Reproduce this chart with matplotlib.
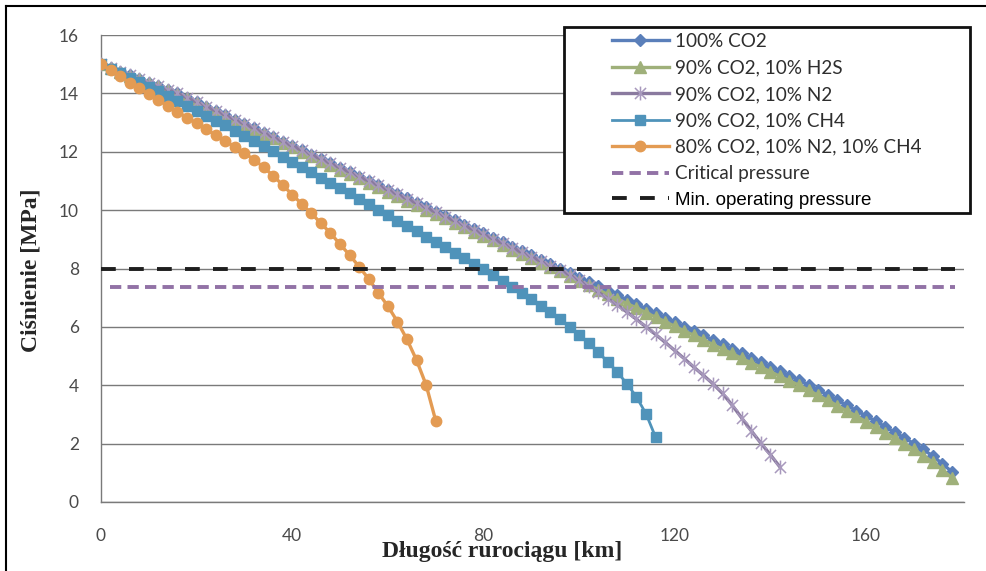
import matplotlib
matplotlib.use("Agg")
import matplotlib.pyplot as plt
from matplotlib.path import Path
from matplotlib.lines import Line2D
from matplotlib.patches import Rectangle

# ---------------- data ----------------
km = list(range(0, 180, 2))  # measurement points every 2 km

co2_100 = [15.00, 14.87, 14.74, 14.62, 14.49, 14.37, 14.25, 14.12, 14.00, 13.85,
           13.70, 13.55, 13.40, 13.25, 13.10, 12.95, 12.80, 12.65, 12.50, 12.35,
           12.20, 12.05, 11.90, 11.75, 11.60, 11.45, 11.30, 11.15, 11.00, 10.85,
           10.70, 10.55, 10.40, 10.25, 10.10, 9.95, 9.80, 9.65, 9.50, 9.35,
           9.20, 9.05, 8.90, 8.75, 8.60, 8.45, 8.30, 8.15, 8.00, 7.85,
           7.69, 7.54, 7.39, 7.23, 7.08, 6.93, 6.78, 6.62, 6.47, 6.32,
           6.16, 6.01, 5.86, 5.71, 5.55, 5.40, 5.25, 5.09, 4.94, 4.79,
           4.64, 4.48, 4.33, 4.18, 4.01, 3.84, 3.67, 3.49, 3.31, 3.13,
           2.95, 2.77, 2.58, 2.39, 2.20, 2.00, 1.80, 1.57, 1.31, 1.03]

co2_h2s = [15.00, 14.87, 14.74, 14.61, 14.48, 14.36, 14.24, 14.11, 13.99, 13.83,
           13.68, 13.53, 13.37, 13.22, 13.07, 12.92, 12.76, 12.61, 12.46, 12.31,
           12.15, 12.00, 11.85, 11.70, 11.54, 11.39, 11.24, 11.09, 10.93, 10.78,
           10.63, 10.48, 10.32, 10.17, 10.02, 9.87, 9.72, 9.56, 9.41, 9.26,
           9.11, 8.96, 8.81, 8.65, 8.50, 8.35, 8.20, 8.05, 7.90, 7.75,
           7.58, 7.43, 7.27, 7.11, 6.96, 6.80, 6.65, 6.49, 6.33, 6.18,
           6.02, 5.86, 5.71, 5.56, 5.39, 5.24, 5.09, 4.92, 4.77, 4.62,
           4.47, 4.30, 4.15, 4.00, 3.83, 3.65, 3.48, 3.30, 3.12, 2.94,
           2.75, 2.57, 2.38, 2.19, 2.00, 1.80, 1.59, 1.36, 1.10, 0.82]

co2_n2 = [15.00, 14.87, 14.74, 14.62, 14.49, 14.37, 14.25, 14.12, 14.00, 13.85,
          13.70, 13.55, 13.40, 13.25, 13.10, 12.95, 12.80, 12.65, 12.50, 12.35,
          12.20, 12.05, 11.90, 11.75, 11.60, 11.45, 11.30, 11.15, 11.00, 10.85,
          10.69, 10.54, 10.39, 10.24, 10.08, 9.93, 9.78, 9.63, 9.47, 9.32,
          9.17, 9.01, 8.86, 8.71, 8.55, 8.40, 8.25, 8.09, 7.95, 7.78,
          7.59, 7.40, 7.19, 6.97, 6.75, 6.51, 6.26, 6.00, 5.74, 5.47,
          5.19, 4.91, 4.62, 4.34, 4.05, 3.72, 3.32, 2.88, 2.44, 2.02,
          1.62, 1.20]

co2_ch4 = [15.00, 14.85, 14.70, 14.54, 14.39, 14.23, 14.07, 13.91, 13.74, 13.58,
           13.41, 13.24, 13.07, 12.90, 12.72, 12.55, 12.37, 12.19, 12.01, 11.83,
           11.65, 11.47, 11.29, 11.11, 10.93, 10.75, 10.57, 10.38, 10.20, 10.01,
           9.83, 9.64, 9.46, 9.27, 9.09, 8.90, 8.72, 8.54, 8.36, 8.17,
           7.98, 7.78, 7.57, 7.36, 7.15, 6.94, 6.72, 6.50, 6.28, 6.00,
           5.72, 5.44, 5.13, 4.80, 4.45, 4.05, 3.60, 3.02, 2.22]

co2_n2_ch4 = [15.00, 14.79, 14.58, 14.37, 14.17, 13.97, 13.77, 13.57, 13.37, 13.17,
              12.97, 12.77, 12.57, 12.37, 12.16, 11.95, 11.73, 11.47, 11.18, 10.86,
              10.53, 10.21, 9.89, 9.55, 9.21, 8.83, 8.46, 8.06, 7.64, 7.17,
              6.71, 6.18, 5.57, 4.86, 4.01, 2.79]

critical_pressure = 7.38
min_operating_pressure = 8.0

labels = ["100% CO2", "90% CO2, 10% H2S", "90% CO2, 10% N2",
          "90% CO2, 10% CH4", "80% CO2, 10% N2, 10% CH4",
          "Critical pressure", "Min. operating pressure"]
x_ticks = [0, 40, 80, 120, 160]
y_ticks = [0, 2, 4, 6, 8, 10, 12, 14, 16]

# ---------------- figure ----------------
W, H = 986, 571
fig = plt.figure(figsize=(W / 100, H / 100), dpi=100)
fig.patch.set_facecolor("white")
ax = fig.add_axes([101 / W, 1 - 502 / H, 863 / W, 467 / H])

ax.set_xlim(0, 180.5)
ax.set_ylim(0, 16)
ax.set_xticks(x_ticks)
ax.set_yticks(y_ticks)
ax.yaxis.grid(True, color="#7a7a7a", lw=1.0)
ax.set_axisbelow(True)
for s in ["top", "right"]:
    ax.spines[s].set_visible(False)
for s in ["left", "bottom"]:
    ax.spines[s].set_color("#7a7a7a")
    ax.spines[s].set_linewidth(1.0)

tick_font = "Lato"
ax.tick_params(axis="both", length=0, labelsize=12.5, labelcolor="#4a4a4a")
ax.tick_params(axis="x", pad=19)
ax.tick_params(axis="y", pad=16)
for t in ax.get_xticklabels() + ax.get_yticklabels():
    t.set_fontfamily(tick_font)

# asterisk marker: X plus vertical bar (Excel "star")
star = Path([(-1, -1), (1, 1), (-1, 1), (1, -1), (0, -1.25), (0, 1.25)],
            [Path.MOVETO, Path.LINETO, Path.MOVETO, Path.LINETO, Path.MOVETO, Path.LINETO])

c_blue = "#5a7fba"
c_green = "#9fb07a"
c_purple = "#8a7a9f"
c_star = "#a899bd"
c_aqua = "#4f93ba"
c_orange = "#e39b53"

h1, = ax.plot(km[:len(co2_100)], co2_100, color=c_blue, lw=2.4, marker="D",
              ms=6, mfc=c_blue, mec=c_blue, zorder=3)
h2, = ax.plot(km[:len(co2_h2s)], co2_h2s, color=c_green, lw=2.4, marker="^",
              ms=8, mfc=c_green, mec=c_green, zorder=3.1)
h3, = ax.plot(km[:len(co2_n2)], co2_n2, color=c_purple, lw=2.4, marker=star,
              ms=10, mfc="none", mec=c_star, mew=1.1, zorder=3.2)
h4, = ax.plot(km[:len(co2_ch4)], co2_ch4, color=c_aqua, lw=2.0, marker="s",
              ms=7.5, mfc=c_aqua, mec=c_aqua, zorder=3.3)
h5, = ax.plot(km[:len(co2_n2_ch4)], co2_n2_ch4, color=c_orange, lw=2.4, marker="o",
              ms=7.5, mfc=c_orange, mec=c_orange, zorder=3.4)
h6 = ax.axhline(critical_pressure, xmin=0.01, xmax=0.99, color="#9272a6", lw=2.8,
                dashes=(2.9, 1.6), zorder=3.5)
h7 = ax.axhline(min_operating_pressure, xmin=0.0, xmax=0.99, color="#1e1e1e", lw=2.8,
                dashes=(3.8, 3.4), zorder=3.6)

# legend frame and legend
fig.add_artist(Rectangle((564 / W, 1 - 213.5 / H), (969.5 - 564) / W, (213.5 - 27.5) / H,
                         transform=fig.transFigure, facecolor="white",
                         edgecolor="#111111", lw=2.0, zorder=5))
leg = fig.legend([h1, h2, h3, h4, h5, h6, h7], labels, loc="upper left",
                 bbox_to_anchor=(612 / W, 1 - 33 / H), bbox_transform=fig.transFigure,
                 frameon=False, borderpad=0, borderaxespad=0,
                 handlelength=3.0, handletextpad=0.35, labelspacing=0.5,
                 prop={"family": tick_font, "size": 13.6})
leg.set_zorder(6)
for t in leg.get_texts():
    t.set_color("#2e2e2e")
leg.get_texts()[-1].set_fontfamily("Liberation Sans")
leg.get_texts()[-1].set_fontsize(13.5)
leg.get_texts()[-1].set_color("#000000")

# axis titles
fig.text(31 / W, 1 - 270 / H, "Ciśnienie [MPa]", rotation=90, ha="center", va="center",
         family="Liberation Serif", weight="bold", fontsize=17, color="#262626")
fig.text(502 / W, 1 - 551 / H, "Długość rurociągu [km]", ha="center", va="center",
         family="Liberation Serif", weight="bold", fontsize=17, color="#262626",
         zorder=10)

# outer frame (left and top edges visible)
fig.add_artist(Line2D([6 / W, 6 / W], [0, 1 - 6 / H], transform=fig.transFigure,
                      color="black", lw=1.5))
fig.add_artist(Line2D([6 / W, 1], [1 - 6 / H, 1 - 6 / H], transform=fig.transFigure,
                      color="black", lw=1.5))

fig.savefig("out.png", dpi=100)
